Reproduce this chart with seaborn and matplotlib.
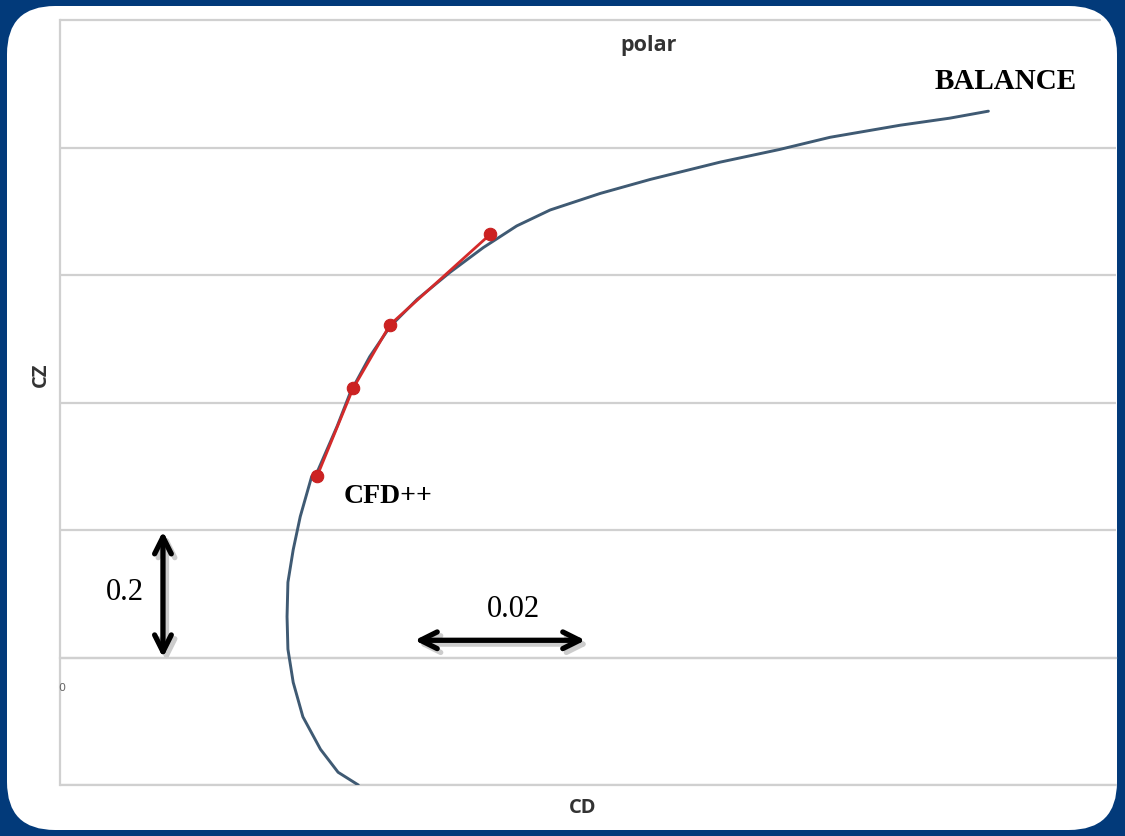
import matplotlib
matplotlib.use("Agg")
import matplotlib.pyplot as plt
import seaborn as sns
import pandas as pd
from matplotlib.patches import FancyBboxPatch

# ---- data ----
balance_cd = [0.0339, 0.0316, 0.0296, 0.0276, 0.0265, 0.0259, 0.0258, 0.0259, 0.0265,
              0.0273, 0.0286, 0.0292, 0.0315, 0.0330, 0.0352, 0.0375, 0.0406, 0.0443,
              0.0481, 0.0519, 0.0557, 0.0614, 0.0671, 0.0750, 0.0818, 0.0875, 0.0955,
              0.1011, 0.1055]
balance_cz = [-0.200, -0.180, -0.144, -0.093, -0.039, 0.013, 0.064, 0.118, 0.169,
              0.221, 0.284, 0.290, 0.363, 0.416, 0.472, 0.519, 0.562, 0.604,
              0.643, 0.677, 0.702, 0.728, 0.750, 0.777, 0.797, 0.816, 0.835,
              0.846, 0.857]
cfd_cd = [0.0292, 0.0333, 0.0375, 0.0489]
cfd_cz = [0.284, 0.422, 0.522, 0.664]
y_ticks = [-0.2, 0.0, 0.2, 0.4, 0.6, 0.8, 1.0]
x_ticks = [0.0, 0.02, 0.04, 0.06, 0.08, 0.10, 0.12]

W, H, DPI = 1125, 836, 100
sns.set_theme(style="white")
plt.rcParams['font.family'] = ['DejaVu Sans']

fig = plt.figure(figsize=(W / DPI, H / DPI), dpi=DPI, facecolor="#023a7a")
panel = FancyBboxPatch((7 + 48, 6 + 48), 1110 - 96, 824 - 96,
                       boxstyle="round,pad=48", transform=None,
                       facecolor="white", edgecolor="none", zorder=-5)
fig.patches.append(panel)

ax = fig.add_axes([60 / W, 1 - 785 / H, (1116 - 60) / W, (785 - 20) / H])
ax.set_facecolor("none")
ax.set_zorder(2)

bal = pd.DataFrame({"CD": balance_cd, "CZ": balance_cz})
cfd = pd.DataFrame({"CD": cfd_cd, "CZ": cfd_cz})

sns.lineplot(data=bal, x="CD", y="CZ", sort=False, estimator=None, ax=ax,
             color="#3f5a73", lw=2.1, zorder=3)
sns.lineplot(data=cfd, x="CD", y="CZ", sort=False, estimator=None, ax=ax,
             color="#d42a2a", lw=2.0, marker="o", markersize=9,
             markeredgecolor="#c81e1e", markerfacecolor="#cc2222", zorder=4)

ax.set_xlim(x_ticks[0], x_ticks[-1])
ax.set_ylim(y_ticks[0], y_ticks[-1])
ax.set_yticks(y_ticks[:-1])
ax.set_yticklabels([])
ax.tick_params(axis="y", length=0)
ax.yaxis.grid(True, color="#d0d0d0", lw=1.6)
ax.xaxis.grid(False)
for s in ["right", "top"]:
    ax.spines[s].set_visible(False)
ax.spines["left"].set_color("#d0d0d0")
ax.spines["left"].set_linewidth(1.6)
ax.spines["bottom"].set_position(("data", 0))
ax.spines["bottom"].set_color("#d0d0d0")
ax.spines["bottom"].set_linewidth(1.6)
ax.set_xticks(x_ticks)
ax.set_xticklabels([])
ax.tick_params(axis="x", length=4, width=1, color="#d0d0d0", direction="out")
ax.set_xlabel("")
ax.set_ylabel("")
ax.axhline(y_ticks[0], color="#d0d0d0", lw=1.6, zorder=1, clip_on=False)
ax.axhline(y_ticks[-1], xmax=0.985, color="#d0d0d0", lw=1.6, zorder=1, clip_on=False)

# axis texts
sans = ["Open Sans", "DejaVu Sans"]
fig.text(649 / W, 1 - 45 / H, "polar", ha="center", va="center", fontsize=15.5,
         fontweight="bold", color="#333333", family=sans)
fig.text(583 / W, 1 - 808 / H, "CD", ha="center", va="center", fontsize=14.5,
         fontweight="bold", color="#333333", family=sans)
fig.text(41 / W, 1 - 375 / H, "CZ", ha="center", va="center", fontsize=14.5,
         fontweight="bold", color="#333333", rotation=90, family=sans)
fig.text(62 / W, 1 - 688 / H, "0", ha="center", va="center", fontsize=8,
         color="#666666")

serif = ["Liberation Serif", "DejaVu Serif"]
ax.text(0.1075, 0.904, "BALANCE", ha="center", va="center", fontsize=21,
        fontweight="bold", family=serif, color="black")
ax.text(0.0373, 0.253, "CFD++", ha="center", va="center", fontsize=20,
        fontweight="bold", family=serif, color="black")
ax.text(0.0074, 0.102, "0.2", ha="center", va="center", fontsize=22,
        family=serif, color="black")
ax.text(0.0515, 0.0753, "0.02", ha="center", va="center", fontsize=22,
        family=serif, color="black")

# scale arrows (with faint shadow)
for dx, dy, col, z in [(0.0004, -0.006, "#cccccc", 5), (0, 0, "black", 6)]:
    ax.annotate("", xy=(0.0117 + dx, 0.0 + dy), xytext=(0.0117 + dx, 0.198 + dy),
                arrowprops=dict(arrowstyle="<->", lw=3.8, color=col,
                                mutation_scale=30, shrinkA=0, shrinkB=0),
                zorder=z)
    ax.annotate("", xy=(0.0403 + dx, 0.027 + dy), xytext=(0.0597 + dx, 0.027 + dy),
                arrowprops=dict(arrowstyle="<->", lw=3.8, color=col,
                                mutation_scale=30, shrinkA=0, shrinkB=0),
                zorder=z)

fig.savefig("out.png", dpi=DPI, facecolor=fig.get_facecolor())
